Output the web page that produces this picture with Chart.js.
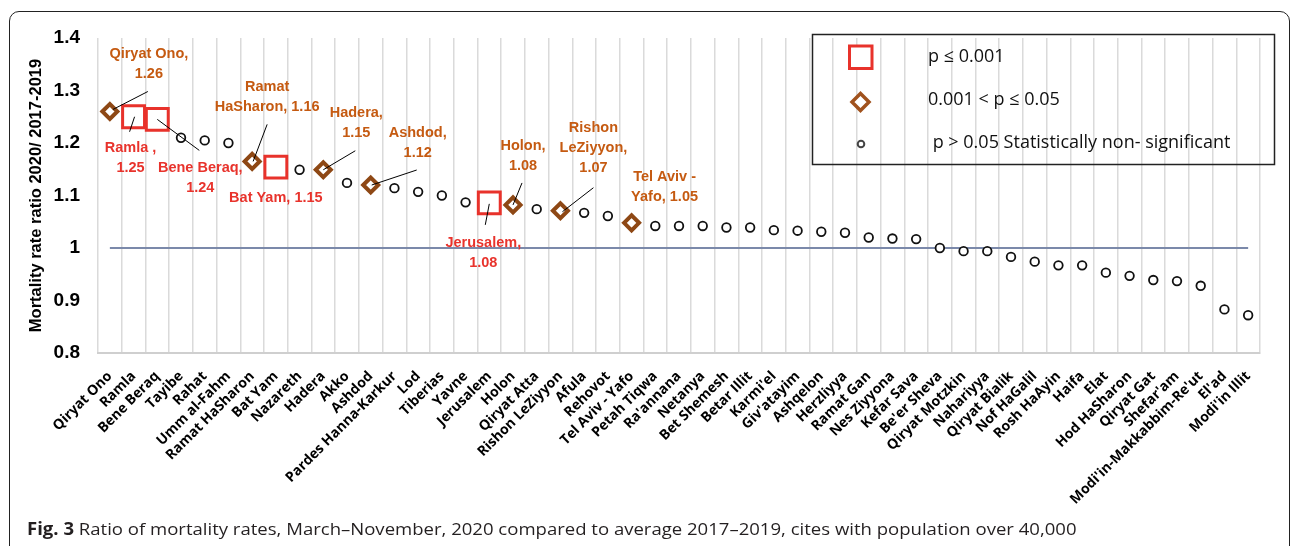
<!DOCTYPE html>
<html>
<head>
<meta charset="utf-8">
<script src="https://cdn.jsdelivr.net/npm/chart.js@4.4.1/dist/chart.umd.min.js"></script>
<style>
  body { margin: 0; background: #fff; width: 1292px; height: 546px; overflow: hidden; position: relative; }
  #frame { position: absolute; left: 9px; top: 11px; width: 1279px; height: 600px; border: 1.5px solid #222; border-radius: 10px; }
  #chart { position: absolute; left: 0; top: 0; }
  #caption { position: absolute; left: 27px; top: 517px; font-family: "Open Sans", sans-serif; font-size: 17px; color: #231f20; white-space: nowrap; transform-origin: left top; }
  #caption b { font-weight: 700; }
</style>
</head>
<body>
<div id="frame"></div>
<canvas id="chart" width="1292" height="530"></canvas>
<div id="caption"><b>Fig. 3</b> Ratio of mortality rates, March–November, 2020 compared to average 2017–2019, cites with population over 40,000</div>
<script>
// cities, sorted as in the figure
const cities = [
  "Qiryat Ono", "Ramla", "Bene Beraq", "Tayibe", "Rahat", "Umm al-Fahm", "Ramat HaSharon",
  "Bat Yam", "Nazareth", "Hadera", "Akko", "Ashdod", "Pardes Hanna-Karkur", "Lod", "Tiberias",
  "Yavne", "Jerusalem", "Holon", "Qiryat Atta", "Rishon LeZiyyon", "Afula", "Rehovot",
  "Tel Aviv - Yafo", "Petah Tiqwa", "Ra'annana", "Netanya", "Bet Shemesh", "Betar Illit",
  "Karmi'el", "Giv'atayim", "Ashqelon", "Herzliyya", "Ramat Gan", "Nes Ziyyona", "Kefar Sava",
  "Be'er Sheva", "Qiryat Motzkin", "Nahariyya", "Qiryat Bialik", "Nof HaGalil", "Rosh HaAyin",
  "Haifa", "Elat", "Hod HaSharon", "Qiryat Gat", "Shefar'am", "Modi'in-Makkabbim-Re'ut",
  "El'ad", "Modi'in Illit"
];

// mortality rate ratio 2020 / 2017-2019
const ratio = [
  1.26, 1.25, 1.245, 1.21, 1.205, 1.20, 1.165,
  1.154, 1.149, 1.149, 1.124, 1.12, 1.114, 1.107, 1.10,
  1.087, 1.086, 1.082, 1.074, 1.071, 1.067, 1.061,
  1.048, 1.042, 1.042, 1.042, 1.039, 1.039,
  1.034, 1.033, 1.031, 1.029, 1.020, 1.018, 1.017,
  1.000, 0.994, 0.994, 0.983, 0.974, 0.967,
  0.967, 0.953, 0.947, 0.939, 0.937, 0.928,
  0.883, 0.872
];

// S: p <= 0.001, M: 0.001 < p <= 0.05, N: not significant
const signif = [
  "M", "S", "S", "N", "N", "N", "M",
  "S", "N", "M", "N", "M", "N", "N", "N",
  "N", "S", "M", "N", "M", "N", "N",
  "M", "N", "N", "N", "N", "N",
  "N", "N", "N", "N", "N", "N", "N",
  "N", "N", "N", "N", "N", "N",
  "N", "N", "N", "N", "N", "N",
  "N", "N"
];

const yTicks = [0.8, 0.9, 1, 1.1, 1.2, 1.3, 1.4];
const yTickLabels = ["0.8", "0.9", "1", "1.1", "1.2", "1.3", "1.4"];
const refValue = 1;

// labelled points
const noteCity = ["Qiryat Ono", "Ramla", "Bene Beraq", "Ramat HaSharon", "Bat Yam", "Hadera",
  "Ashdod", "Jerusalem", "Holon", "Rishon LeZiyyon", "Tel Aviv - Yafo"];
const noteText = [
  ["Qiryat Ono,", "1.26"], ["Ramla ,", "1.25"], ["Bene Beraq,", "1.24"],
  ["Ramat", "HaSharon, 1.16"], ["Bat Yam, 1.15"], ["Hadera,", "1.15"], ["Ashdod,", "1.12"],
  ["Jerusalem,", "1.08"], ["Holon,", "1.08"], ["Rishon", "LeZiyyon,", "1.07"], ["Tel Aviv -", "Yafo, 1.05"]
];

const RED = "#e8322b", BROWN = "#8e4815", ORANGE = "#c55a11", REDTXT = "#e8332c";

// label placement relative to the point: [dx, dy of first line, leader x1, y1, x2, y2]
const noteLayout = [
  [39, -58, 38, -20, 3, -2],
  [-3, 31, -4, 15, 1, 0],
  [43, 49, 42, 31, 0, 0],
  [15, -74, 15, -37, 1, 0],
  [0, 31],
  [33, -57, 32, -19, 0, 0],
  [47, -52, 46, -15, 1, 0],
  [-6, 40, -4, 22, 0, 1],
  [10, -59, 9, -22, 0, 0],
  [33, -83, 33, -23, 2, 1],
  [33, -46]
];

function pick(code) {
  return ratio.map((v, i) => (signif[i] === code ? v : null));
}

const notesPlugin = {
  id: "notes",
  afterDatasetsDraw(chart) {
    const ctx = chart.ctx;
    const xs = chart.scales.x, ys = chart.scales.y;
    ctx.save();
    ctx.font = "bold 14.5px 'Liberation Sans', Arial, sans-serif";
    ctx.textAlign = "center";
    ctx.textBaseline = "middle";
    noteCity.forEach((c, k) => {
      const i = cities.indexOf(c);
      const px = xs.getPixelForValue(i), py = ys.getPixelForValue(ratio[i]);
      const lay = noteLayout[k];
      const col = signif[i] === "S" ? REDTXT : ORANGE;
      if (lay.length > 2) {
        ctx.strokeStyle = "#000";
        ctx.lineWidth = 1;
        ctx.beginPath();
        ctx.moveTo(px + lay[2], py + lay[3]);
        ctx.lineTo(px + lay[4], py + lay[5]);
        ctx.stroke();
      }
      ctx.fillStyle = col;
      noteText[k].forEach((t, j) => ctx.fillText(t, px + lay[0], py + lay[1] + j * 20));
    });
    ctx.restore();
  },
  afterDraw(chart) {
    // legend box
    const ctx = chart.ctx;
    ctx.save();
    ctx.strokeStyle = "#222";
    ctx.lineWidth = 1.5;
    ctx.strokeRect(812.5, 34.5, 462, 130);
    ctx.fillStyle = "#fff";
    ctx.strokeStyle = RED;
    ctx.lineWidth = 3;
    ctx.beginPath(); ctx.rect(849.5, 46, 22.5, 22.5); ctx.fill(); ctx.stroke();
    ctx.strokeStyle = "#a0521d";
    ctx.lineWidth = 3.5;
    ctx.beginPath();
    ctx.moveTo(852, 102); ctx.lineTo(860.5, 93.5); ctx.lineTo(869, 102); ctx.lineTo(860.5, 110.5);
    ctx.closePath(); ctx.fill(); ctx.stroke();
    ctx.strokeStyle = "#444";
    ctx.lineWidth = 2;
    ctx.beginPath(); ctx.arc(861, 144, 3.3, 0, Math.PI * 2); ctx.fill(); ctx.stroke();
    ctx.fillStyle = "#111";
    ctx.font = "18px 'Open Sans', sans-serif";
    ctx.textAlign = "left";
    ctx.textBaseline = "middle";
    ctx.fillText("p ≤ 0.001", 928, 57);
    ctx.fillText("0.001 < p ≤ 0.05", 928, 100);
    ctx.fillText(" p > 0.05 Statistically non- significant", 928, 143);
    ctx.restore();
  }
};

new Chart(document.getElementById("chart"), {
  type: "line",
  data: {
    labels: cities,
    datasets: [
      {
        label: "p ≤ 0.001", data: pick("S"), showLine: false,
        pointStyle: "rect", pointRadius: 15.5, pointBorderWidth: 3,
        pointBorderColor: RED, pointBackgroundColor: "#fff"
      },
      {
        label: "0.001 < p ≤ 0.05", data: pick("M"), showLine: false,
        pointStyle: "rectRot", pointRadius: 7.5, pointBorderWidth: 4,
        pointBorderColor: BROWN, pointBackgroundColor: "#fff"
      },
      {
        label: "p > 0.05", data: pick("N"), showLine: false,
        pointStyle: "circle", pointRadius: 4.3, pointBorderWidth: 1.8,
        pointBorderColor: "#111", pointBackgroundColor: "#fff"
      },
      {
        label: "ratio = 1", data: cities.map(() => refValue),
        borderColor: "#7b89aa", borderWidth: 2, pointRadius: 0, fill: false
      }
    ]
  },
  options: {
    responsive: false,
    animation: false,
    events: [],
    devicePixelRatio: 1,
    layout: { padding: { top: 38, right: 32, left: 0, bottom: 0 } },
    plugins: { legend: { display: false }, tooltip: { enabled: false } },
    scales: {
      x: {
        offset: true,
        grid: { offset: true, color: "#dadada", lineWidth: 1.5, drawTicks: false },
        border: { color: "#cfcfcf", width: 2 },
        ticks: {
          autoSkip: false, minRotation: 45, maxRotation: 45, padding: 15, color: "#000",
          font: { family: "'Open Sans', sans-serif", weight: "bold", size: 14 }
        },
        afterFit(s) { s.height = 177; }
      },
      y: {
        min: 0.8, max: 1.4,
        afterBuildTicks(s) { s.ticks = yTicks.map(v => ({ value: v })); },
        grid: { display: false, drawTicks: false },
        border: { display: false },
        ticks: {
          padding: 18, color: "#000",
          font: { family: "'Liberation Sans', Arial, sans-serif", weight: "bold", size: 19 },
          callback: (v, i) => yTickLabels[i]
        },
        title: {
          display: true, text: "Mortality rate ratio 2020/ 2017-2019", color: "#000",
          font: { family: "'Liberation Sans', Arial, sans-serif", weight: "bold", size: 16.5 },
          padding: { top: 27, bottom: 0 }
        },
        afterFit(s) { s.width = 98; }
      }
    }
  },
  plugins: [notesPlugin]
});

const cap = document.getElementById("caption");
cap.style.transform = "scaleX(" + (1050 / cap.offsetWidth) + ")";
</script>
</body>
</html>
